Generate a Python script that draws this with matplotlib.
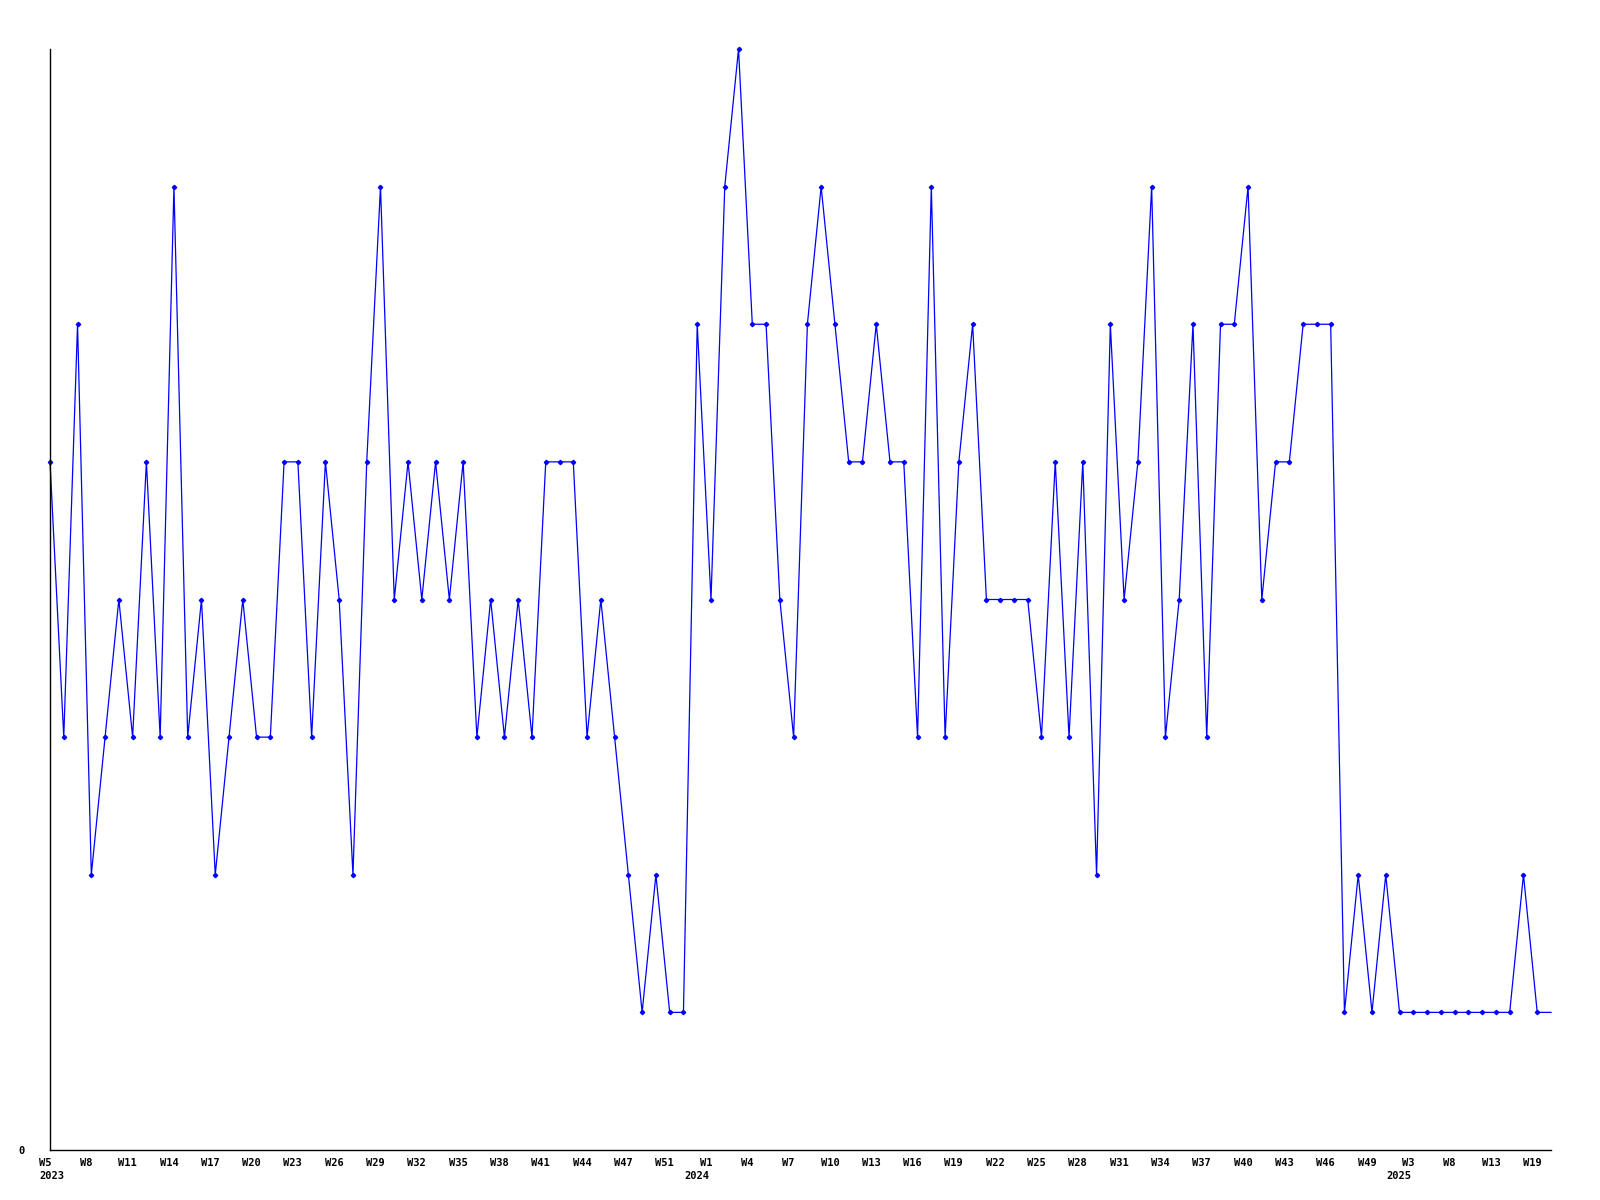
import matplotlib
matplotlib.use("Agg")
import matplotlib.pyplot as plt
import matplotlib.transforms as mtransforms

# Valores semanais (um ponto por semana com dados)
values = [
    5, 3, 6, 2, 3, 4, 3, 5, 3, 7,
    3, 4, 2, 3, 4, 3, 3, 5, 5, 3,
    5, 4, 2, 5, 7, 4, 5, 4, 5, 4,
    5, 3, 4, 3, 4, 3, 5, 5, 5, 3,
    4, 3, 2, 1, 2, 1, 1, 6, 4, 7,
    8, 6, 6, 4, 3, 6, 7, 6, 5, 5,
    6, 5, 5, 3, 7, 3, 5, 6, 4, 4,
    4, 4, 3, 5, 3, 5, 2, 6, 4, 5,
    7, 3, 4, 6, 3, 6, 6, 7, 4, 5,
    5, 6, 6, 6, 1, 2, 1, 2, 1, 1,
    1, 1, 1, 1, 1, 1, 1, 2, 1, 1,
]

# Rótulos do eixo x (um a cada 3 pontos)
week_labels = [
    'W5', 'W8', 'W11', 'W14', 'W17', 'W20', 'W23', 'W26', 'W29', 'W32',
    'W35', 'W38', 'W41', 'W44', 'W47', 'W51', 'W1', 'W4', 'W7', 'W10',
    'W13', 'W16', 'W19', 'W22', 'W25', 'W28', 'W31', 'W34', 'W37', 'W40',
    'W43', 'W46', 'W49', 'W3', 'W8', 'W13', 'W19',
]
label_step = 3

# Ano e posição (índice do rótulo) onde cada ano começa
years = ['2023', '2024', '2025']
year_label_idx = [0, 16, 33]

fig = plt.figure(figsize=(16, 12), dpi=100)
ax = fig.add_axes([50 / 1600, 1 - 1150 / 1200, 1501 / 1600, 1101 / 1200])

x = list(range(len(values)))
ax.plot(x, values, color='#0000ff', linewidth=0.9, marker='D', markersize=2.2,
        markevery=list(range(len(values) - 1)), clip_on=False)

ax.set_xlim(0, len(values) - 1)
ax.set_ylim(0, max(values))

for side in ['top', 'right']:
    ax.spines[side].set_visible(False)
for side in ['left', 'bottom']:
    ax.spines[side].set_color('black')
    ax.spines[side].set_linewidth(1.0)

font = dict(family='DejaVu Sans Mono', weight='bold', size=7.5)

ax.set_yticks([0])
ax.set_yticklabels(['0'], **font)
ax.tick_params(axis='y', length=0, pad=18)

ticks = [i * label_step for i in range(len(week_labels))]
ax.set_xticks(ticks)
ax.set_xticklabels(week_labels, **font)
ax.tick_params(axis='x', length=0, pad=6)
for lbl in ax.get_xticklabels():
    lbl.set_transform(lbl.get_transform() + mtransforms.ScaledTranslation(-5 / 100, 0, fig.dpi_scale_trans))

trans = mtransforms.blended_transform_factory(ax.transData, ax.transAxes)
for year, idx in zip(years, year_label_idx):
    xpos = ticks[idx]
    if idx == 0:
        ax.annotate(year, xy=(xpos, 0), xycoords=trans, xytext=(-11, -21),
                    textcoords='offset pixels', ha='left', va='top', **font)
    else:
        ax.annotate(year, xy=(xpos, 0), xycoords=trans, xytext=(-2, -21),
                    textcoords='offset pixels', ha='right', va='top', **font)

fig.savefig('out.png', dpi=100, facecolor='white')
